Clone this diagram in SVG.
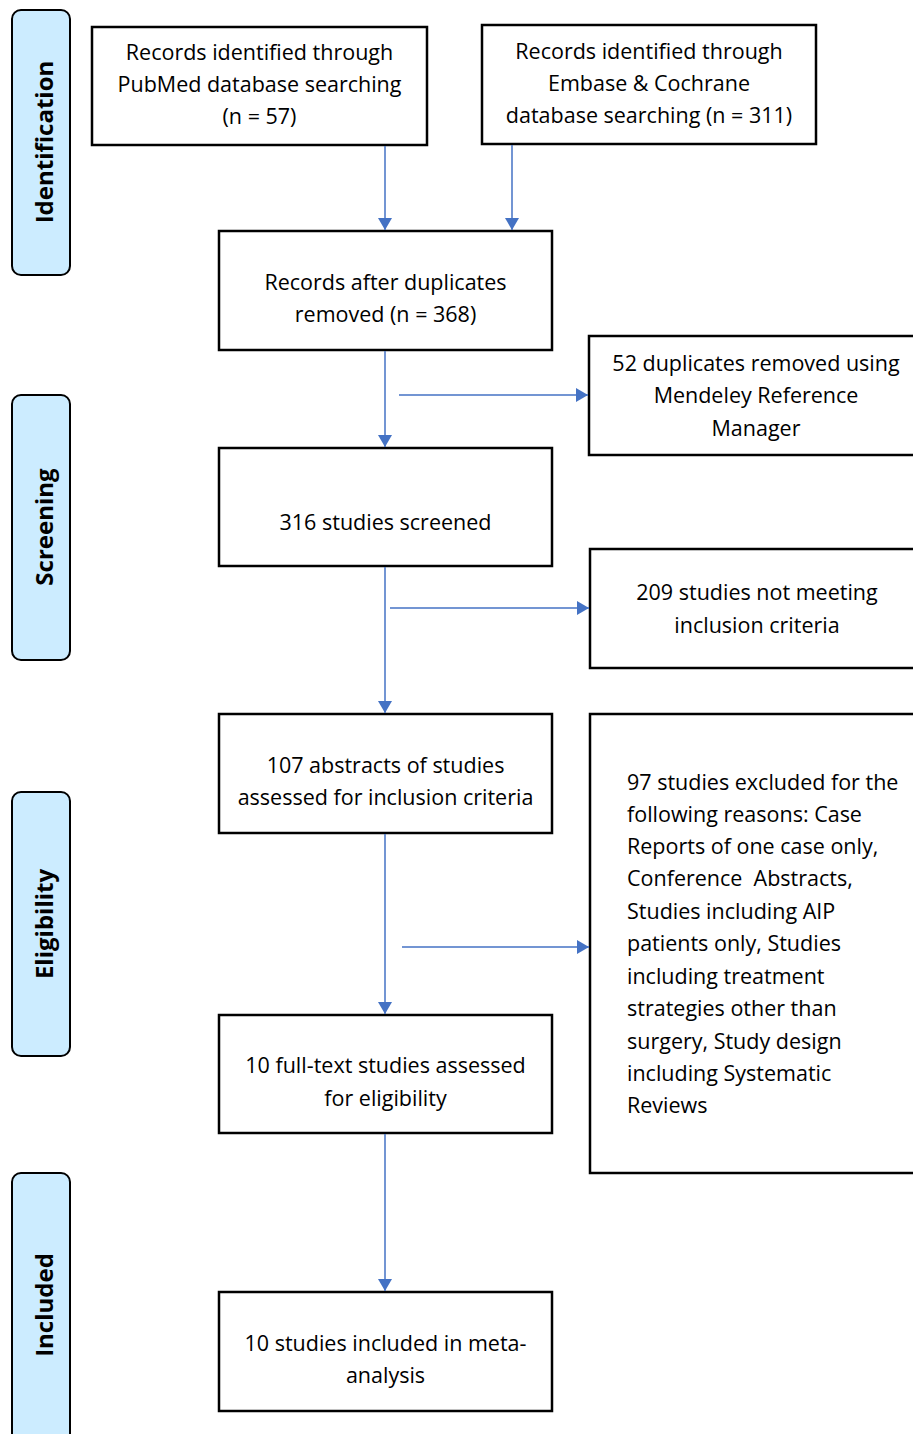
<svg xmlns="http://www.w3.org/2000/svg" width="913" height="1434" viewBox="0 0 913 1434">
<defs>
<marker id="ah" markerWidth="12" markerHeight="14" refX="12" refY="7" orient="auto" markerUnits="userSpaceOnUse" viewBox="0 0 12 14">
<path d="M0,0 L12,7 L0,14 Z" fill="#4472C4"/>
</marker>
<style>
.box{fill:#fff;stroke:#000;stroke-width:2.5}
.side{fill:#CCECFF;stroke:#000;stroke-width:2}
.t{font-family:"Open Sans","Noto Sans",sans-serif;font-size:21.5px;fill:#000;text-anchor:middle}
.tl{font-family:"Open Sans","Noto Sans",sans-serif;font-size:21.5px;fill:#000}
.s{font-family:"Open Sans","Noto Sans",sans-serif;font-size:24px;font-weight:bold;fill:#000;text-anchor:middle}
.c{stroke:#4472C4;stroke-width:1.5;fill:none}
</style>
</defs>
<rect width="913" height="1434" fill="#fff"/>
<g id="side-identification"><rect class="side" x="12" y="10" width="58" height="265" rx="9"/><text class="s" transform="translate(53,142) rotate(-90)">Identification</text></g>
<g id="side-screening"><rect class="side" x="12" y="395" width="58" height="265" rx="9"/><text class="s" transform="translate(53,527) rotate(-90)">Screening</text></g>
<g id="side-eligibility"><rect class="side" x="12" y="792" width="58" height="264" rx="9"/><text class="s" transform="translate(53,924) rotate(-90)">Eligibility</text></g>
<g id="side-included"><rect class="side" x="12" y="1173" width="58" height="275" rx="9"/><text class="s" transform="translate(53,1305) rotate(-90)">Included</text></g>

<g id="pubmed"><rect class="box" x="92" y="27" width="335" height="118"/>
<text class="t" x="259.5" y="60">Records identified through</text>
<text class="t" x="259.5" y="92">PubMed database searching</text>
<text class="t" x="259.5" y="124">(n = 57)</text></g>
<g id="embase"><rect class="box" x="482" y="25" width="334" height="119"/>
<text class="t" x="649" y="59">Records identified through</text>
<text class="t" x="649" y="91">Embase &amp; Cochrane</text>
<text class="t" x="649" y="123">database searching (n = 311)</text></g>
<g id="dedup"><rect class="box" x="219" y="231" width="333" height="119"/>
<text class="t" x="385.5" y="290">Records after duplicates</text>
<text class="t" x="385.5" y="322">removed (n = 368)</text></g>
<g id="dups-removed"><rect class="box" x="589" y="336" width="330" height="119"/>
<text class="t" x="756" y="371">52 duplicates removed using</text>
<text class="t" x="756" y="403">Mendeley Reference</text>
<text class="t" x="756" y="436">Manager</text></g>
<g id="screened"><rect class="box" x="219" y="448" width="333" height="118"/>
<text class="t" x="385.5" y="530">316 studies screened</text></g>
<g id="not-meeting"><rect class="box" x="590" y="549" width="330" height="119"/>
<text class="t" x="757" y="600">209 studies not meeting</text>
<text class="t" x="757" y="633">inclusion criteria</text></g>
<g id="abstracts"><rect class="box" x="219" y="714" width="333" height="119"/>
<text class="t" x="385.5" y="773">107 abstracts of studies</text>
<text class="t" x="385.5" y="805">assessed for inclusion criteria</text></g>
<g id="excluded"><rect class="box" x="590" y="714" width="330" height="459"/>
<text class="tl" x="627" y="790">97 studies excluded for the</text>
<text class="tl" x="627" y="822">following reasons: Case</text>
<text class="tl" x="627" y="854">Reports of one case only,</text>
<text class="tl" x="627" y="886" xml:space="preserve">Conference  Abstracts,</text>
<text class="tl" x="627" y="919">Studies including AIP</text>
<text class="tl" x="627" y="951">patients only, Studies</text>
<text class="tl" x="627" y="984">including treatment</text>
<text class="tl" x="627" y="1016">strategies other than</text>
<text class="tl" x="627" y="1049">surgery, Study design</text>
<text class="tl" x="627" y="1081">including Systematic</text>
<text class="tl" x="627" y="1113">Reviews</text></g>
<g id="fulltext"><rect class="box" x="219" y="1015" width="333" height="118"/>
<text class="t" x="385.5" y="1073">10 full-text studies assessed</text>
<text class="t" x="385.5" y="1106">for eligibility</text></g>
<g id="included"><rect class="box" x="219" y="1292" width="333" height="119"/>
<text class="t" x="385.5" y="1351">10 studies included in meta-</text>
<text class="t" x="385.5" y="1383">analysis</text></g>

<g id="connectors">
<line class="c" x1="385" y1="146" x2="385" y2="230" marker-end="url(#ah)"/>
<line class="c" x1="512" y1="145" x2="512" y2="230" marker-end="url(#ah)"/>
<line class="c" x1="385" y1="351" x2="385" y2="447" marker-end="url(#ah)"/>
<line class="c" x1="399" y1="395" x2="588" y2="395" marker-end="url(#ah)"/>
<line class="c" x1="385" y1="567" x2="385" y2="713" marker-end="url(#ah)"/>
<line class="c" x1="390" y1="608" x2="589" y2="608" marker-end="url(#ah)"/>
<line class="c" x1="385" y1="834" x2="385" y2="1014" marker-end="url(#ah)"/>
<line class="c" x1="402" y1="947" x2="589" y2="947" marker-end="url(#ah)"/>
<line class="c" x1="385" y1="1134" x2="385" y2="1291" marker-end="url(#ah)"/>
</g>
</svg>
